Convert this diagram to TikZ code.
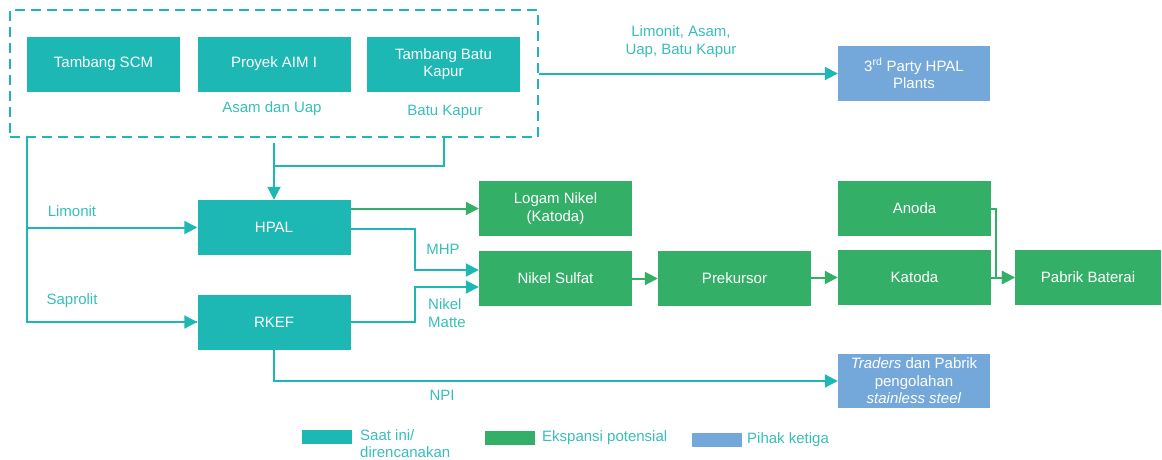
\documentclass[tikz,border=0pt]{standalone}
\usepackage{fontspec}
\setmainfont{Liberation Sans}
\usepackage{tikz}
\usetikzlibrary{positioning}
\usetikzlibrary{calc}
\usetikzlibrary{arrows.meta}

\definecolor{curteal}{RGB}{29,184,180}
\definecolor{expgreen}{RGB}{52,175,104}
\definecolor{thirdblue}{RGB}{116,168,218}
\definecolor{lblteal}{RGB}{56,190,186}

\tikzset{
	basebox/.style={rectangle, text=white, align=center, minimum width=153pt, minimum height=55pt, inner sep=2pt, font=\fontsize{15}{17.5}\selectfont},
	curbox/.style={basebox, fill=curteal},
	expbox/.style={basebox, fill=expgreen},
	thirdbox/.style={basebox, fill=thirdblue},
	lbl/.style={text=lblteal, align=center, inner sep=1pt, font=\fontsize{15}{18}\selectfont},
	tealline/.style={draw=curteal, line width=2pt},
	tealflow/.style={tealline, -{Triangle[length=13pt,width=13pt]}},
	greenflow/.style={draw=expgreen, line width=2pt, -{Triangle[length=13pt,width=13pt]}},
	swatch/.style={rectangle, minimum width=50pt, minimum height=14pt, inner sep=0pt}
}

\begin{document}
\begin{tikzpicture}[x=1pt,y=-1pt]
		\useasboundingbox (0,0) rectangle (1162,459);
		
		% current mines / projects
		\node at (103.5,64) [curbox] (scm) {Tambang SCM};
		\node at (274,64) [curbox] (aim) {Proyek AIM I};
		\node at (443.5,64) [curbox] (batu) {Tambang Batu\\Kapur};
		\node at (274,73.5) [draw=curteal, line width=2pt, dash pattern=on 10pt off 6pt, minimum width=528pt, minimum height=127pt] (grp) {};
		
		\node at (272,109) [lbl] (aimlbl) {Asam dan Uap};
		\node at (445,112) [lbl] (batulbl) {Batu Kapur};
		
		% processing
		\node at (274,227.5) [curbox] (hpal) {HPAL};
		\node at (274,322) [curbox] (rkef) {RKEF};
		
		% expansion chain
		\node at (555.5,208.5) [expbox] (logam) {Logam Nikel\\(Katoda)};
		\node at (555.5,278.5) [expbox] (sulfat) {Nikel Sulfat};
		\node at (734.5,278.5) [expbox] (prek) {Prekursor};
		\node at (914.5,208.5) [expbox] (anoda) {Anoda};
		\node at (914.5,277.5) [expbox] (katoda) {Katoda};
		\node at (1088,277.5) [expbox, minimum width=146pt] (pabrik) {Pabrik Baterai};
		
		% third parties
		\node at (914,73.5) [thirdbox, minimum width=152pt] (hpal3) {3\textsuperscript{rd} Party HPAL\\Plants};
		\node at (914,381) [thirdbox, minimum width=152pt, minimum height=54pt] (traders) {\textit{Traders} dan Pabrik\\pengolahan\\\textit{stainless steel}};
		
		% connectors
		\coordinate (jn) at (274,166);
		\draw [tealflow] (grp.east) -- (hpal3.west);
		\draw [tealline] (scm.west |- grp.south) |- (rkef.west);
		\draw [tealflow] (scm.west |- rkef.west) -- (rkef.west);
		\draw [tealflow] (scm.west |- hpal.west) -- (hpal.west);
		\draw [tealflow] ([yshift=-5pt]grp.south -| aim.south) -- (hpal.north);
		\draw [tealline] (batu.south |- grp.south) |- (jn);
		\draw [greenflow] (hpal.east |- logam.west) -- (logam.west);
		\draw [tealflow] ([yshift=-1.5pt]hpal.east) -- ++(64,0) |- ([yshift=8.5pt]sulfat.west);
		\draw [tealflow] (rkef.east) -- ++(64,0) |- ([yshift=-8.5pt]sulfat.west);
		\draw [tealflow] (rkef.south) |- (traders.west);
		\draw [greenflow] (sulfat.east) -- (prek.west);
		\draw [greenflow] (prek.east |- katoda.west) -- (katoda.west);
		\draw [greenflow] (katoda.east) -- (pabrik.west);
		\draw [greenflow] (anoda.east) -- ++(5,0) |- (pabrik.west);
		
		% connector labels
		\node at (681,42) [lbl] (mixlbl) {Limonit, Asam,\\Uap, Batu Kapur};
		\node at (72,211) [lbl] (limlbl) {Limonit};
		\node at (72,301) [lbl] (saplbl) {Saprolit};
		\node at (443,249) [lbl] (mhplbl) {MHP};
		\node at (427,313) [lbl, anchor=west, align=left] (mattelbl) {Nikel\\Matte};
		\node at (442,395) [lbl] (npilbl) {NPI};
		
		% legend
		\node at (327,437) [swatch, fill=curteal] (sw1) {};
		\node at (359,444) [lbl, anchor=west, align=left, font=\fontsize{15}{17}\selectfont] (lg1) {Saat ini/\\direncanakan};
		\node at (510,438) [swatch, fill=expgreen] (sw2) {};
		\node at (541,438) [lbl, anchor=west] (lg2) {Ekspansi potensial};
		\node at (717,440) [swatch, fill=thirdblue] (sw3) {};
		\node at (746,440) [lbl, anchor=west] (lg3) {Pihak ketiga};
		
\end{tikzpicture}
\end{document}
